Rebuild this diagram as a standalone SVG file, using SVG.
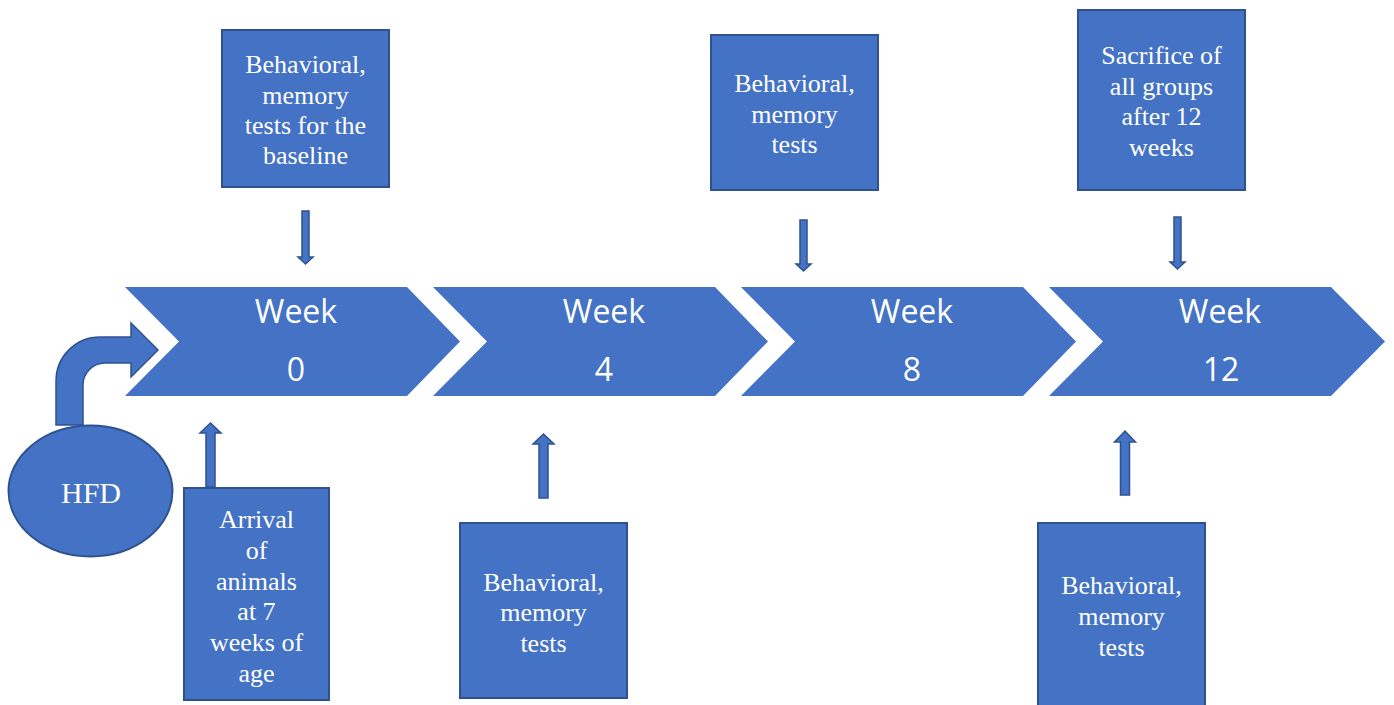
<svg xmlns="http://www.w3.org/2000/svg" width="1394" height="705" viewBox="0 0 1394 705">
<style>
.chev{fill:#4472C4;}
.box{fill:#4472C4;stroke:#2F528F;stroke-width:2;}
.arr{fill:#4472C4;stroke:#2F528F;stroke-width:1.5;stroke-linejoin:miter;}
.wk{font-family:"Open Sans","Liberation Sans",sans-serif;font-size:32px;fill:#fff;text-anchor:middle;}
.bt{font-family:"Liberation Serif","Times New Roman",serif;font-size:26px;fill:#fff;text-anchor:middle;}
</style>
<rect width="1394" height="705" fill="#fff"/>
<g id="week0">
<polygon class="chev" points="125,287 407,287 460,341.5 407,396 125,396 179,341.5"/>
<text class="wk" x="296" y="323">Week</text>
<text class="wk" x="296" y="381">0</text>
</g>
<g id="week4">
<polygon class="chev" points="433,287 715,287 768,341.5 715,396 433,396 487,341.5"/>
<text class="wk" x="604" y="323">Week</text>
<text class="wk" x="604" y="381">4</text>
</g>
<g id="week8">
<polygon class="chev" points="741,287 1023,287 1076,341.5 1023,396 741,396 795,341.5"/>
<text class="wk" x="912" y="323">Week</text>
<text class="wk" x="912" y="381">8</text>
</g>
<g id="week12">
<polygon class="chev" points="1049,287 1331,287 1385,341.5 1331,396 1049,396 1103,341.5"/>
<text class="wk" x="1220" y="323">Week</text>
<text class="wk" x="1221" y="381">12</text>
</g>
<g id="hfd">
<ellipse cx="90.5" cy="491" rx="82" ry="65.5" fill="#4472C4" stroke="#2F528F" stroke-width="2"/>
<text class="bt" x="91" y="503" style="font-size:30px">HFD</text>
</g>
<g id="box-baseline">
<rect class="box" x="222" y="30" width="167" height="157"/>
<text class="bt" x="305.5" y="73">Behavioral,</text>
<text class="bt" x="305.5" y="104">memory</text>
<text class="bt" x="305.5" y="134">tests for the</text>
<text class="bt" x="305.5" y="164">baseline</text>
</g>
<g id="box-week8">
<rect class="box" x="711" y="35" width="167" height="155"/>
<text class="bt" x="794.5" y="92">Behavioral,</text>
<text class="bt" x="794.5" y="123">memory</text>
<text class="bt" x="794.5" y="153">tests</text>
</g>
<g id="box-sacrifice">
<rect class="box" x="1078" y="10" width="167" height="180"/>
<text class="bt" x="1161.5" y="64">Sacrifice of</text>
<text class="bt" x="1161.5" y="95">all groups</text>
<text class="bt" x="1161.5" y="125">after 12</text>
<text class="bt" x="1161.5" y="156">weeks</text>
</g>
<g id="box-arrival">
<rect class="box" x="184" y="488" width="145" height="212"/>
<text class="bt" x="256.5" y="528">Arrival</text>
<text class="bt" x="256.5" y="559">of</text>
<text class="bt" x="256.5" y="590">animals</text>
<text class="bt" x="256.5" y="620">at 7</text>
<text class="bt" x="256.5" y="651">weeks of</text>
<text class="bt" x="256.5" y="682">age</text>
</g>
<g id="box-week4">
<rect class="box" x="460" y="523" width="167" height="175"/>
<text class="bt" x="543.5" y="591">Behavioral,</text>
<text class="bt" x="543.5" y="621">memory</text>
<text class="bt" x="543.5" y="652">tests</text>
</g>
<g id="box-week12">
<rect class="box" x="1038" y="523" width="167" height="184"/>
<text class="bt" x="1121.5" y="594">Behavioral,</text>
<text class="bt" x="1121.5" y="625">memory</text>
<text class="bt" x="1121.5" y="656">tests</text>
</g>
<g id="connectors">
<path class="arr" d="M56,425 L56,381 A44,44 0 0 1 100,337 L131,337 L131,323 L158,350 L131,377 L131,363 L105,363 A22,22 0 0 0 83,385 L83,425 Z"/>
<polygon class="arr" points="302,211 309,211 309,257 313,257 305.5,264 298,257 302,257"/>
<polygon class="arr" points="800,220 807,220 807,264 811,264 803.5,271 796,264 800,264"/>
<polygon class="arr" points="1174,217 1181,217 1181,262 1185,262 1177.5,269 1170,262 1174,262"/>
<polygon class="arr" points="206,487 215,487 215,433 221,433 210.5,423 200,433 206,433"/>
<polygon class="arr" points="539,498 548,498 548,444 554,444 543.5,434 533,444 539,444"/>
<polygon class="arr" points="1120.5,495 1129.5,495 1129.5,442 1135.5,442 1125,431 1114.5,442 1120.5,442"/>
</g>
</svg>
